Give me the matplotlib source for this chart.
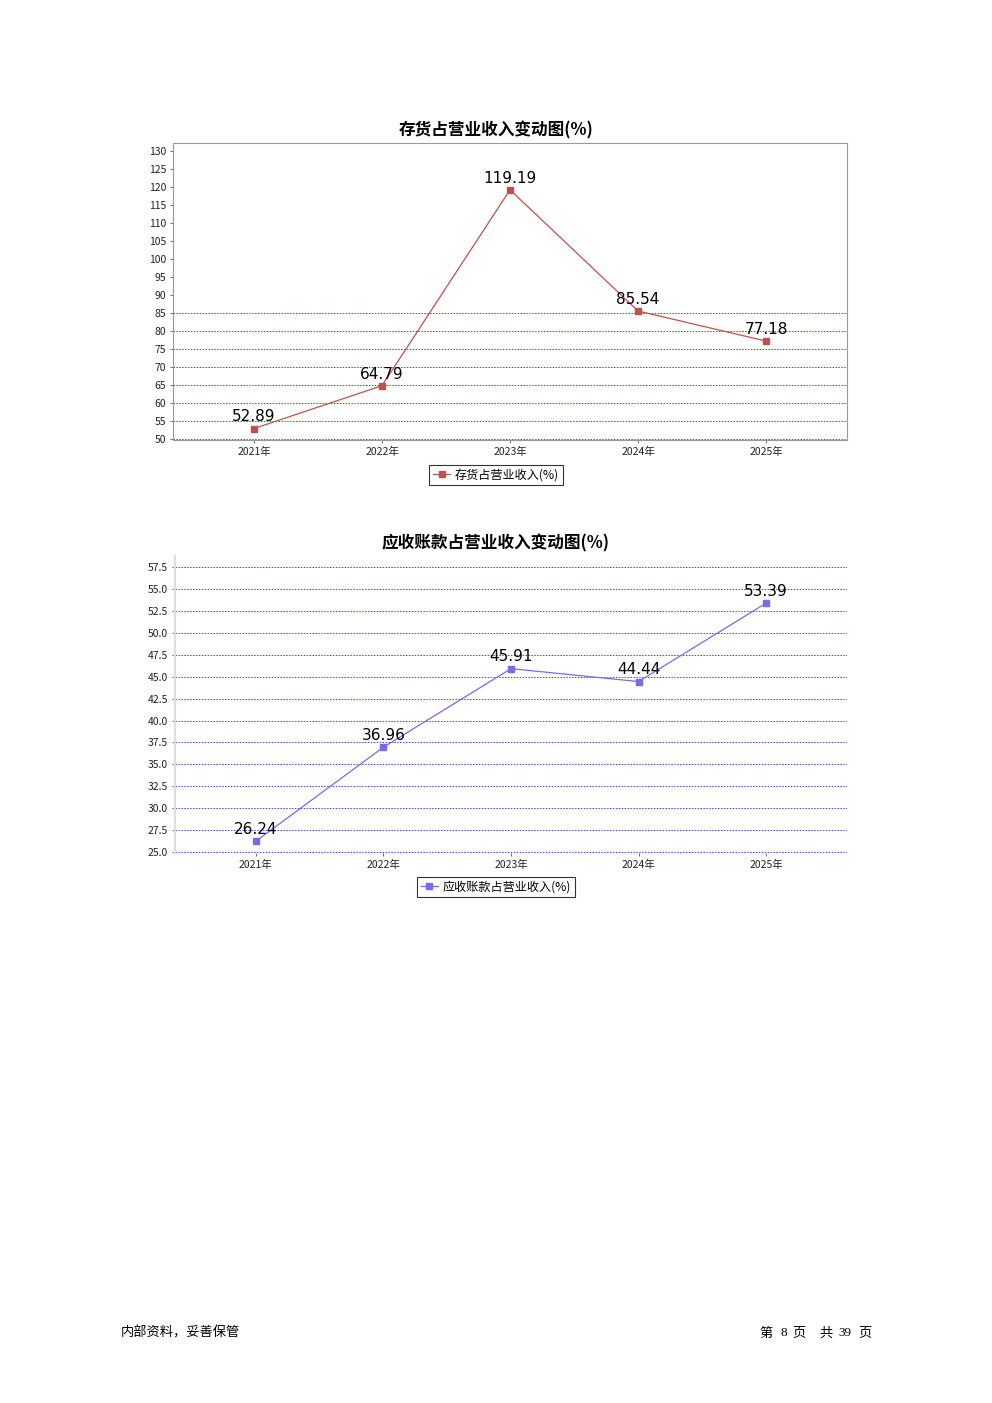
import matplotlib
matplotlib.use("Agg")
import matplotlib.pyplot as plt

plt.rcParams['font.family'] = ['Noto Sans CJK SC', 'DejaVu Sans']

years = ["2021年", "2022年", "2023年", "2024年", "2025年"]
inventory = [52.89, 64.79, 119.19, 85.54, 77.18]
receivable = [26.24, 36.96, 45.91, 44.44, 53.39]

inv_ticks = list(range(50, 131, 5))
rec_ticks = [25.0, 27.5, 30.0, 32.5, 35.0, 37.5, 40.0, 42.5, 45.0, 47.5, 50.0, 52.5, 55.0, 57.5]

W, H = 992, 1403
fig = plt.figure(figsize=(W / 100, H / 100), dpi=100)


def px_axes(left, top, right, bottom):
    return fig.add_axes([left / W, 1 - bottom / H, (right - left) / W, (bottom - top) / H])


def draw(ax, values, color, ticks, grid_vals, ylim, title, title_y, legend_label, legend_y,
         fmt, full_frame):
    x = list(range(len(values)))
    ax.plot(x, values, color=color, lw=0.9, marker='s', ms=5, mec=color, mfc=color,
            label=legend_label, zorder=3)
    for xi, v in zip(x, values):
        ax.annotate(f"{v:.2f}", (xi, v), xytext=(0, 3), textcoords='offset points',
                    ha='center', va='bottom', fontsize=11, color='black', zorder=4,
                    family='DejaVu Sans')
    for g in grid_vals:
        ax.axhline(g, color='#4040ff', lw=0.7, ls=(0, (1.5, 1.5)), zorder=1)
    ax.set_xlim(-0.633, len(values) - 1 + 0.633)
    ax.set_ylim(*ylim)
    ax.set_yticks(ticks)
    ax.set_yticklabels([fmt.format(t) for t in ticks])
    ax.set_xticks(x)
    ax.set_xticklabels(years)
    ax.tick_params(axis='both', labelsize=7.5, colors='#555555', length=2, width=0.6,
                   labelcolor='#222222', pad=3)
    for s in ax.spines.values():
        s.set_color('#999999')
        s.set_linewidth(0.8)
    if not full_frame:
        ax.spines['top'].set_visible(False)
        ax.spines['right'].set_visible(False)
        ax.spines['bottom'].set_visible(False)
        ax.spines['left'].set_color('#dddddd')
        ax.spines['left'].set_linewidth(1.5)
    fig.text(496 / W, 1 - title_y / H, title, fontsize=12, fontweight='bold',
             ha='center', va='center')
    leg = fig.legend(*ax.get_legend_handles_labels(), loc='center',
                     bbox_to_anchor=(496 / W, 1 - legend_y / H), fontsize=8.7,
                     frameon=True, fancybox=False, handlelength=1.4, handletextpad=0.4,
                     borderpad=0.3, markerscale=0.8)
    leg.get_frame().set_edgecolor('black')
    leg.get_frame().set_linewidth(0.8)


ax1 = px_axes(173, 143, 847, 440)
draw(ax1, inventory, '#c0504d', inv_ticks, list(range(50, 86, 5)), (49.7, 132.2),
     "存货占营业收入变动图(%)", 130, "存货占营业收入(%)", 475, "{:d}", True)

ax2 = px_axes(175, 556, 847, 853)
draw(ax2, receivable, '#7b68ee', rec_ticks, rec_ticks, (24.9, 58.75),
     "应收账款占营业收入变动图(%)", 543, "应收账款占营业收入(%)", 887, "{:.1f}", False)

fy = 1 - 1333 / H
fig.text(121 / W, fy, "内部资料，妥善保管", fontsize=9.5, va='center', ha='left')
for xp, s in [(766, "第"), (784, "8"), (799, "页"), (826, "共"), (845, "39"), (865, "页")]:
    fam = 'Liberation Serif' if s.isdigit() else 'Noto Sans CJK SC'
    fig.text(xp / W, fy, s, fontsize=9.5, va='center', ha='center', family=fam)

fig.savefig("out.png", dpi=100)
